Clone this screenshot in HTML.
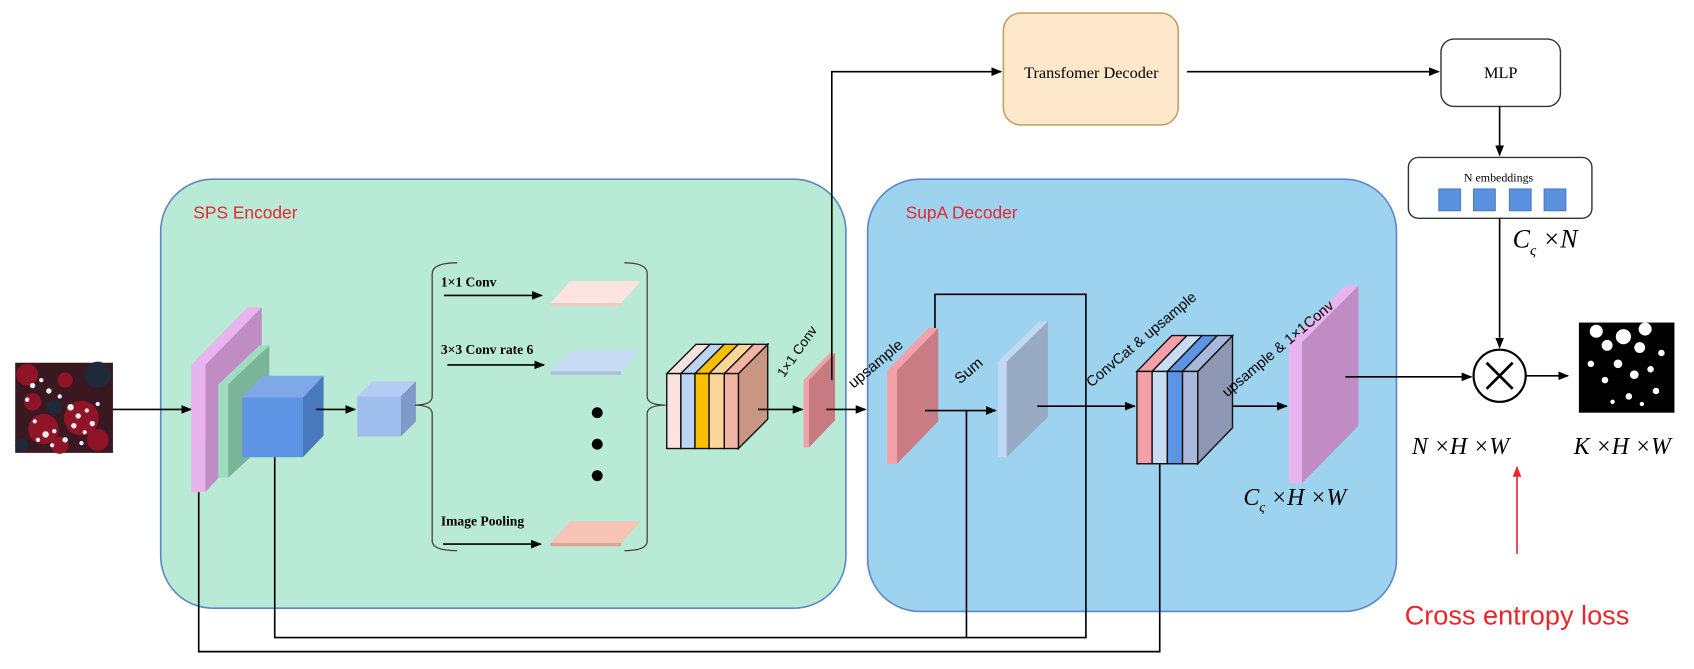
<!DOCTYPE html>
<html><head><meta charset="utf-8"><style>
html,body{margin:0;padding:0;background:#fff;}
svg{display:block;}
.s{font-family:"Liberation Sans",sans-serif;}
.r{font-family:"Liberation Serif",serif;}
</style></head><body>
<svg width="1694" height="669" viewBox="0 0 1560 616" preserveAspectRatio="none" xmlns="http://www.w3.org/2000/svg">
<defs>
<marker id="a" markerWidth="10" markerHeight="8" refX="9" refY="4" orient="auto" markerUnits="userSpaceOnUse"><path d="M0,0 L10,4 L0,8 Z" fill="#000"/></marker>
<marker id="ar" markerWidth="10" markerHeight="8" refX="9" refY="4" orient="auto" markerUnits="userSpaceOnUse"><path d="M0,0 L10,4 L0,8 Z" fill="#e8262e"/></marker>
</defs>
<rect x="148" y="165" width="631" height="395" rx="48" fill="#b9ead5" stroke="#5d87c8" stroke-width="1.5"/>
<rect x="799" y="165" width="487" height="398" rx="48" fill="#9dd3ee" stroke="#5d87c8" stroke-width="1.5"/>
<text x="178" y="201" class="s" font-size="16" fill="#e8262e">SPS Encoder</text>
<text x="834" y="201" class="s" font-size="16" fill="#e8262e">SupA Decoder</text>
<rect x="924" y="12" width="161" height="103" rx="16" fill="#fde8cc" stroke="#c9a067" stroke-width="1.5"/>
<text x="1005" y="72" class="r" font-size="15" text-anchor="middle">Transfomer Decoder</text>
<rect x="1327" y="36" width="110" height="62" rx="12" fill="#fff" stroke="#333" stroke-width="1.3"/>
<text x="1382" y="72" class="r" font-size="15" text-anchor="middle">MLP</text>
<rect x="1297" y="145" width="169" height="56" rx="9" fill="#fff" stroke="#333" stroke-width="1.3"/>
<text x="1380" y="167" class="r" font-size="11" text-anchor="middle">N embeddings</text>
<g fill="#5b92e0" stroke="#4a7cc4"><rect x="1325" y="174" width="20" height="20"/><rect x="1357" y="174" width="20" height="20"/><rect x="1390" y="174" width="20" height="20"/><rect x="1422" y="174" width="20" height="20"/></g>
<rect x="14" y="334" width="90" height="83" fill="#3a1820"/>
<g fill="#9a1428" opacity="0.9"><circle cx="25" cy="345" r="10"/><circle cx="40" cy="395" r="14"/><circle cx="75" cy="385" r="16"/><circle cx="90" cy="405" r="10"/><circle cx="30" cy="370" r="8"/><circle cx="60" cy="350" r="7"/><circle cx="55" cy="410" r="8"/></g>
<g fill="#1e2a3a"><circle cx="90" cy="345" r="12"/><circle cx="50" cy="375" r="7"/><circle cx="20" cy="410" r="6"/></g>
<g fill="#e8eef4"><circle cx="30" cy="355" r="2.5"/><circle cx="38" cy="350" r="2"/><circle cx="45" cy="360" r="2.5"/><circle cx="25" cy="368" r="2"/><circle cx="65" cy="375" r="3"/><circle cx="72" cy="383" r="2.5"/><circle cx="80" cy="378" r="2"/><circle cx="68" cy="392" r="2.5"/><circle cx="78" cy="398" r="2"/><circle cx="85" cy="390" r="2.5"/><circle cx="42" cy="400" r="3"/><circle cx="50" cy="397" r="2"/><circle cx="35" cy="405" r="2"/><circle cx="55" cy="365" r="2"/><circle cx="90" cy="372" r="2"/><circle cx="60" cy="405" r="2.5"/><circle cx="48" cy="410" r="2"/><circle cx="75" cy="408" r="2"/><circle cx="32" cy="388" r="2"/></g>
<line x1="104" y1="377" x2="176" y2="377" stroke="#000" stroke-width="1.5" marker-end="url(#a)"/>
<polygon points="189,336 241,283 241,398 189,453" fill="#c08cc4"/>
<polygon points="176,336 228,283 241,283 189,336" fill="#e9b3ef"/>
<rect x="176" y="336" width="13" height="117" fill="#e9b3ef"/>
<polygon points="210,354 248,318 248,405 210,440" fill="#7ab59a"/>
<polygon points="201,354 239,318 248,318 210,354" fill="#9fdcc0"/>
<rect x="201" y="354" width="9" height="86" fill="#9fdcc0"/>
<polygon points="223,366 242,346 298,346 279,366" fill="#7fa8e8"/>
<polygon points="279,366 298,346 298,401 279,421" fill="#4a78bc"/>
<rect x="223" y="366" width="56" height="55" fill="#5e94e4"/>
<line x1="291" y1="377" x2="327" y2="377" stroke="#000" stroke-width="1.5" marker-end="url(#a)"/>
<polygon points="329,365 343,351 383,351 369,365" fill="#b5cdf5"/>
<polygon points="369,365 383,351 383,388 369,402" fill="#809ac8"/>
<rect x="329" y="365" width="40" height="37" fill="#a0bfee"/>
<path d="M421,242 Q398,242 398,252 L398,365 Q398,373 382,373 Q398,373 398,381 L398,498 Q398,507 421,507" fill="none" stroke="#444" stroke-width="1.2"/>
<path d="M575,242 Q596,242 596,252 L596,365 Q596,373 613,373 Q596,373 596,381 L596,498 Q596,507 575,507" fill="none" stroke="#444" stroke-width="1.2"/>
<text x="406" y="264" class="r" font-size="12.5" font-weight="bold">1×1 Conv</text>
<line x1="409" y1="272" x2="499" y2="272" stroke="#000" stroke-width="1.5" marker-end="url(#a)"/>
<polygon points="507,279 572,279 590,259 525,259" fill="#fde4e0"/><polygon points="507,279 572,279 572,282 507,282" fill="#f0c8c4"/>
<text x="406" y="326" class="r" font-size="12.5" font-weight="bold">3×3 Conv rate 6</text>
<line x1="412" y1="336" x2="501" y2="336" stroke="#000" stroke-width="1.5" marker-end="url(#a)"/>
<polygon points="507,342 572,342 590,322 525,322" fill="#c8dcf5"/><polygon points="507,342 572,342 572,345 507,345" fill="#a8bede"/>
<g fill="#000"><circle cx="550" cy="380" r="5"/><circle cx="550" cy="409" r="5"/><circle cx="550" cy="438" r="5"/></g>
<text x="406" y="484" class="r" font-size="12.5" font-weight="bold">Image Pooling</text>
<line x1="408" y1="501" x2="498" y2="501" stroke="#000" stroke-width="1.5" marker-end="url(#a)"/>
<polygon points="507,500 572,500 590,480 525,480" fill="#f6c3b4"/><polygon points="507,500 572,500 572,503 507,503" fill="#dca494"/>
<g stroke="#111" stroke-width="1.3">
<polygon points="680,344 707,317 707,386 680,413" fill="#c99684"/>
<polygon points="614,344 641,317 654,317 627,344" fill="#fde3df"/>
<polygon points="627,344 654,317 667,317 640,344" fill="#bcd5f2"/>
<polygon points="640,344 667,317 680,317 653,344" fill="#f8c000"/>
<polygon points="653,344 680,317 694,317 667,344" fill="#fdd59a"/>
<polygon points="667,344 694,317 707,317 680,344" fill="#f4b6a4"/>
<rect x="614" y="344" width="13" height="69" fill="#fde3df"/>
<rect x="627" y="344" width="13" height="69" fill="#bcd5f2"/>
<rect x="640" y="344" width="13" height="69" fill="#f8c000"/>
<rect x="653" y="344" width="14" height="69" fill="#fdd59a"/>
<rect x="667" y="344" width="13" height="69" fill="#f4b6a4"/>
</g>
<line x1="698" y1="377" x2="739" y2="377" stroke="#000" stroke-width="1.5" marker-end="url(#a)"/>
<polygon points="745,350 769,325 769,387 745,412" fill="#c87a82"/>
<polygon points="740,350 764,325 769,325 745,350" fill="#f0a0a8"/>
<rect x="740" y="350" width="5" height="62" fill="#f0a0a8"/>
<text class="s" font-size="12.5" transform="translate(722,348) rotate(-55)">1×1 Conv</text>
<line x1="761" y1="377" x2="797" y2="377" stroke="#000" stroke-width="1.5" marker-end="url(#a)"/>
<polyline points="766,350 766,66 922,66" fill="none" stroke="#000" stroke-width="1.5" marker-end="url(#a)"/>
<line x1="1093" y1="66" x2="1325" y2="66" stroke="#000" stroke-width="1.5" marker-end="url(#a)"/>
<line x1="1381" y1="98" x2="1381" y2="143" stroke="#000" stroke-width="1.5" marker-end="url(#a)"/>
<polyline points="253,421 253,587 1000,587 1000,271 861,271 861,304" fill="none" stroke="#000" stroke-width="1.5"/>
<polyline points="183,453 183,600 1068,600 1068,427" fill="none" stroke="#000" stroke-width="1.5"/>
<polygon points="826,341 864,302 864,388 826,427" fill="#c97c84"/>
<polygon points="817,341 855,302 864,302 826,341" fill="#f4a0a8"/>
<rect x="817" y="341" width="9" height="86" fill="#f4a0a8"/>
<text class="s" font-size="14" transform="translate(786,358) rotate(-40)">upsample</text>
<line x1="852" y1="378" x2="917" y2="378" stroke="#000" stroke-width="1.5" marker-end="url(#a)"/>
<line x1="890" y1="378" x2="890" y2="587" stroke="#000" stroke-width="1.5"/>
<polygon points="927,333 965,296 965,384 927,421" fill="#98aac4"/>
<polygon points="919,333 957,296 965,296 927,333" fill="#c0d8f4"/>
<rect x="919" y="333" width="8" height="88" fill="#c0d8f4"/>
<text class="s" font-size="14" transform="translate(884,354) rotate(-40)">Sum</text>
<line x1="955" y1="374" x2="1045" y2="374" stroke="#000" stroke-width="1.5" marker-end="url(#a)"/>
<g stroke="#111" stroke-width="1.3">
<polygon points="1103,342 1135,309 1135,394 1103,427" fill="#8e98b4"/>
<polygon points="1047,342 1079,309 1093,309 1061,342" fill="#f4a0a8"/>
<polygon points="1061,342 1093,309 1107,309 1075,342" fill="#c8dcf4"/>
<polygon points="1075,342 1107,309 1121,309 1089,342" fill="#5e94e4"/>
<polygon points="1089,342 1121,309 1135,309 1103,342" fill="#aab8dc"/>
<rect x="1047" y="342" width="14" height="85" fill="#f4a0a8"/>
<rect x="1061" y="342" width="14" height="85" fill="#c8dcf4"/>
<rect x="1075" y="342" width="14" height="85" fill="#5e94e4"/>
<rect x="1089" y="342" width="14" height="85" fill="#aab8dc"/>
</g>
<text class="s" font-size="13.5" transform="translate(1005,357) rotate(-40)">ConvCat &amp; upsample</text>
<line x1="1135" y1="374" x2="1185" y2="374" stroke="#000" stroke-width="1.5" marker-end="url(#a)"/>
<polygon points="1199,315 1251,263 1251,392 1199,445" fill="#c08cc4"/>
<polygon points="1187,315 1239,263 1251,263 1199,315" fill="#e9b3ef"/>
<rect x="1187" y="315" width="12" height="130" fill="#e9b3ef"/>
<text class="s" font-size="13.5" transform="translate(1130,366) rotate(-40)">upsample &amp; 1×1Conv</text>
<text x="1145" y="465" class="r" font-size="22" font-style="italic">C<tspan font-size="13" dy="6">ς</tspan><tspan dy="-6"> ×H ×W</tspan></text>
<line x1="1239" y1="347" x2="1355" y2="347" stroke="#000" stroke-width="1.5" marker-end="url(#a)"/>
<line x1="1381" y1="201" x2="1381" y2="320" stroke="#000" stroke-width="1.5" marker-end="url(#a)"/>
<circle cx="1381" cy="346" r="24" fill="#fff" stroke="#000" stroke-width="2"/>
<path d="M1369,334 L1393,358 M1393,334 L1369,358" stroke="#000" stroke-width="2.5"/>
<line x1="1405" y1="346" x2="1444" y2="346" stroke="#000" stroke-width="1.5" marker-end="url(#a)"/>
<text x="1393" y="228" class="r" font-size="24" font-style="italic">C<tspan font-size="14" dy="7">ς</tspan><tspan dy="-7"> ×N</tspan></text>
<rect x="1454" y="297" width="88" height="83" fill="#000"/>
<g fill="#fff"><circle cx="1470" cy="305" r="6"/><circle cx="1480" cy="318" r="5"/><circle cx="1495" cy="310" r="7"/><circle cx="1510" cy="320" r="5"/><circle cx="1515" cy="303" r="6"/><circle cx="1490" cy="335" r="4"/><circle cx="1505" cy="345" r="4"/><circle cx="1520" cy="340" r="3"/><circle cx="1478" cy="350" r="3"/><circle cx="1525" cy="360" r="3"/><circle cx="1500" cy="365" r="3"/><circle cx="1465" cy="335" r="3"/><circle cx="1530" cy="325" r="3"/><circle cx="1512" cy="372" r="2"/><circle cx="1485" cy="370" r="2"/></g>
<text x="1345" y="418" class="r" font-size="22" font-style="italic" text-anchor="middle">N ×H ×W</text>
<text x="1494" y="418" class="r" font-size="22" font-style="italic" text-anchor="middle">K ×H ×W</text>
<line x1="1397" y1="510" x2="1397" y2="430" stroke="#e8262e" stroke-width="1.5" marker-end="url(#ar)"/>
<text x="1397" y="575" class="s" font-size="25" fill="#e8262e" text-anchor="middle">Cross entropy loss</text>
</svg>
</body></html>
